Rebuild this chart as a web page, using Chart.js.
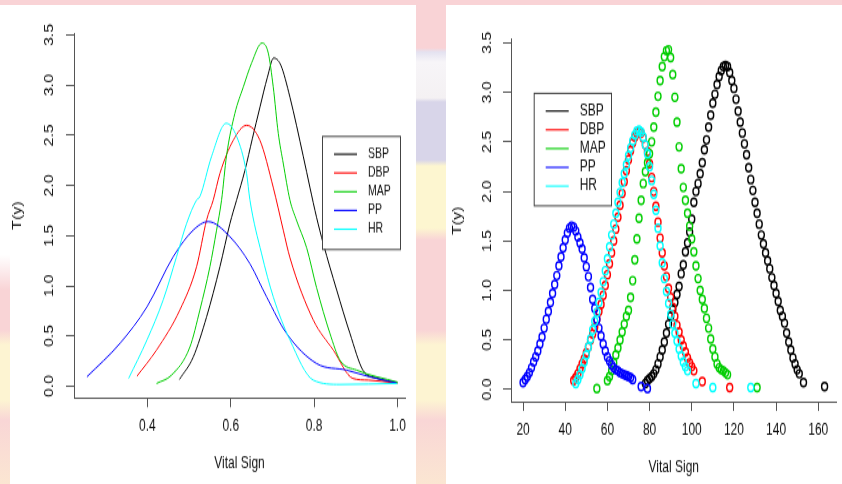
<!DOCTYPE html>
<html>
<head>
<meta charset="utf-8">
<script src="https://cdn.jsdelivr.net/npm/chart.js@4.4.1/dist/chart.umd.min.js"></script>
<style>
  html, body { margin: 0; padding: 0; }
  body {
    width: 842px; height: 484px; overflow: hidden; position: relative;
    background: linear-gradient(to bottom,
      #f9d3d6 0px, #f9d3d6 48px, #e4e2f0 52px, #f7f5f8 62px, #f4f1f3 98px,
      #d8d5e9 102px, #d8d5e9 160px, #fdf6d0 166px, #fdf6d0 228px,
      #f9d4d6 240px, #f9d4d6 330px, #fdf4d2 345px, #fdf4d2 400px,
      #f9d6d6 420px, #fbe6d2 484px);
  }
  .edge { position: absolute; left: 0; top: 5px; width: 10px; height: 285px;
          background: linear-gradient(to bottom, #fff 0px, #fff 250px, rgba(255,255,255,0) 285px); }
  .panel { position: absolute; top: 5px; height: 479px; background: #fff; overflow: hidden; }
  .panel canvas { transform-origin: 0 0; transform: scaleY(1.3306); }
</style>
</head>
<body>
<div class="edge"></div>
<div class="panel" style="left:10px; width:406px;"><canvas id="leftChart" width="406" height="360"></canvas></div>
<div class="panel" style="left:446px; width:396px;"><canvas id="rightChart" width="396" height="360"></canvas></div>
<script>
// --- shared ---
const seriesNames = ['SBP', 'DBP', 'MAP', 'PP', 'HR'];
const seriesColors = ['#000000', '#ff0000', '#00cd00', '#0000ff', '#00ffff'];
const yTicks = [0, 0.5, 1, 1.5, 2, 2.5, 3, 3.5];

// --- left panel: curves on the 0-1 scale ---
const leftXTicks = [0.4, 0.6, 0.8, 1.0];
const sbpLineX = [0.477, 0.51, 0.542, 0.574, 0.598, 0.614, 0.634, 0.652, 0.670, 0.688, 0.703, 0.72, 0.742, 0.774, 0.790, 0.806, 0.822, 0.854, 0.886, 0.917, 0.95, 1.0];
const sbpLineY = [0.067, 0.29, 0.69, 1.19, 1.62, 1.855, 2.15, 2.47, 2.78, 3.08, 3.27, 3.2, 2.88, 2.29, 1.98, 1.68, 1.42, 0.96, 0.525, 0.16, 0.08, 0.035];
const dbpLineX = [0.375, 0.422, 0.478, 0.518, 0.542, 0.558, 0.574, 0.606, 0.638, 0.670, 0.702, 0.726, 0.742, 0.798, 0.846, 0.893, 0.93, 1.0];
const dbpLineY = [0.10, 0.36, 0.76, 1.19, 1.655, 1.855, 2.12, 2.45, 2.60, 2.45, 1.98, 1.555, 1.28, 0.66, 0.36, 0.077, 0.06, 0.03];
const mapLineX = [0.422, 0.458, 0.502, 0.526, 0.550, 0.566, 0.578, 0.59, 0.61, 0.63, 0.65, 0.675, 0.69, 0.702, 0.714, 0.726, 0.742, 0.758, 0.782, 0.806, 0.838, 0.862, 0.902, 1.0];
const mapLineY = [0.027, 0.11, 0.39, 0.76, 1.19, 1.555, 1.855, 2.3, 2.72, 2.98, 3.22, 3.42, 3.32, 2.98, 2.52, 2.22, 1.855, 1.65, 1.38, 0.98, 0.525, 0.26, 0.16, 0.04];
const ppLineX = [0.255, 0.335, 0.399, 0.462, 0.510, 0.546, 0.598, 0.646, 0.686, 0.734, 0.806, 0.878, 0.933, 0.997];
const ppLineY = [0.093, 0.43, 0.79, 1.29, 1.555, 1.64, 1.49, 1.22, 0.89, 0.525, 0.226, 0.16, 0.093, 0.033];
const hrLineX = [0.355, 0.399, 0.438, 0.470, 0.494, 0.518, 0.526, 0.554, 0.589, 0.614, 0.638, 0.646, 0.674, 0.702, 0.742, 0.798, 0.862, 1.0];
const hrLineY = [0.077, 0.46, 0.86, 1.29, 1.62, 1.855, 1.89, 2.29, 2.62, 2.49, 2.12, 1.855, 1.32, 0.89, 0.46, 0.06, 0.017, 0.027];

// --- right panel: points on the original scale ---
const rightXTicks = [20, 40, 60, 80, 100, 120, 140, 160];
const sbpPtsX = [78, 79, 80, 81, 82, 83, 84, 85, 86, 87, 88, 89, 90, 91, 92, 93, 94, 95, 96, 97, 98, 99, 100, 101, 102, 103, 104, 105, 106, 107, 108, 109, 110, 111, 112, 113, 114, 115, 116, 117, 118, 119, 120, 121, 122, 123, 124, 125, 126, 127, 128, 129, 130, 131, 132, 133, 134, 135, 136, 137, 138, 139, 140, 141, 142, 143, 144, 145, 146, 147, 148, 149, 150, 151, 153, 163];
const sbpPtsY = [0.06, 0.09, 0.11, 0.13, 0.16, 0.20, 0.26, 0.33, 0.40, 0.48, 0.57, 0.66, 0.74, 0.81, 0.88, 0.96, 1.04, 1.17, 1.26, 1.39, 1.48, 1.59, 1.72, 1.89, 2.00, 2.08, 2.18, 2.29, 2.42, 2.52, 2.65, 2.77, 2.89, 2.98, 3.08, 3.16, 3.22, 3.26, 3.27, 3.26, 3.20, 3.12, 3.04, 2.93, 2.81, 2.70, 2.59, 2.48, 2.37, 2.24, 2.12, 2.01, 1.89, 1.78, 1.67, 1.56, 1.47, 1.38, 1.30, 1.22, 1.13, 1.05, 0.97, 0.89, 0.80, 0.74, 0.67, 0.57, 0.48, 0.40, 0.32, 0.26, 0.20, 0.16, 0.07, 0.03];
const dbpPtsX = [44, 45, 46, 47, 48, 49, 50, 51, 52, 53, 54, 55, 56, 57, 58, 59, 60, 61, 62, 63, 64, 65, 66, 67, 68, 69, 70, 71, 72, 73, 74, 75, 76, 77, 78, 79, 80, 81, 82, 83, 84, 85, 86, 87, 88, 89, 90, 91, 92, 93, 94, 95, 96, 97, 98, 99, 100, 101, 105, 118];
const dbpPtsY = [0.09, 0.12, 0.16, 0.21, 0.26, 0.31, 0.37, 0.43, 0.50, 0.56, 0.63, 0.71, 0.79, 0.86, 0.95, 1.05, 1.16, 1.27, 1.38, 1.50, 1.62, 1.74, 1.86, 1.98, 2.10, 2.21, 2.32, 2.41, 2.49, 2.55, 2.59, 2.60, 2.59, 2.54, 2.47, 2.40, 2.28, 2.14, 2.00, 1.85, 1.69, 1.53, 1.38, 1.25, 1.14, 1.02, 0.93, 0.83, 0.74, 0.65, 0.58, 0.50, 0.44, 0.38, 0.32, 0.27, 0.23, 0.19, 0.08, 0.02];
const mapPtsX = [55, 60, 61, 62, 63, 64, 65, 66, 67, 68, 69, 70, 71, 72, 73, 74, 75, 76, 77, 78, 79, 80, 81, 82, 83, 84, 85, 86, 87, 88, 89, 90, 91, 92, 93, 94, 95, 96, 97, 98, 99, 100, 101, 102, 103, 104, 105, 106, 107, 108, 109, 110, 111, 112, 113, 114, 115, 116, 117, 131];
const mapPtsY = [0.01, 0.09, 0.13, 0.19, 0.27, 0.35, 0.42, 0.50, 0.58, 0.66, 0.74, 0.80, 0.93, 1.10, 1.31, 1.52, 1.73, 1.91, 2.08, 2.20, 2.29, 2.38, 2.50, 2.65, 2.80, 2.96, 3.12, 3.26, 3.36, 3.42, 3.43, 3.35, 3.18, 2.95, 2.70, 2.45, 2.23, 2.04, 1.91, 1.78, 1.65, 1.52, 1.39, 1.25, 1.12, 1.00, 0.91, 0.82, 0.72, 0.62, 0.51, 0.41, 0.33, 0.26, 0.22, 0.20, 0.19, 0.17, 0.15, 0.02];
const ppPtsX = [20, 21, 22, 23, 24, 25, 26, 27, 28, 29, 30, 31, 32, 33, 34, 35, 36, 37, 38, 39, 40, 41, 42, 43, 44, 45, 46, 47, 48, 49, 50, 51, 52, 53, 54, 55, 56, 57, 58, 59, 60, 61, 62, 63, 64, 65, 66, 67, 68, 69, 70, 71, 72, 76, 79];
const ppPtsY = [0.07, 0.10, 0.13, 0.17, 0.22, 0.28, 0.33, 0.39, 0.46, 0.53, 0.62, 0.71, 0.79, 0.88, 0.97, 1.06, 1.15, 1.25, 1.34, 1.43, 1.51, 1.58, 1.63, 1.65, 1.64, 1.60, 1.54, 1.48, 1.42, 1.33, 1.24, 1.14, 1.03, 0.91, 0.82, 0.71, 0.62, 0.54, 0.46, 0.39, 0.33, 0.29, 0.25, 0.22, 0.20, 0.19, 0.17, 0.16, 0.15, 0.14, 0.13, 0.12, 0.10, 0.03, 0.01];
const hrPtsX = [45, 46, 47, 48, 49, 50, 51, 52, 53, 54, 55, 56, 57, 58, 59, 60, 61, 62, 63, 64, 65, 66, 67, 68, 69, 70, 71, 72, 73, 74, 75, 76, 77, 78, 79, 80, 81, 82, 83, 84, 85, 86, 87, 88, 89, 90, 91, 92, 93, 94, 95, 96, 97, 98, 102, 110, 128];
const hrPtsY = [0.06, 0.10, 0.15, 0.21, 0.28, 0.35, 0.43, 0.51, 0.60, 0.69, 0.78, 0.88, 0.98, 1.09, 1.20, 1.32, 1.44, 1.56, 1.67, 1.78, 1.89, 1.99, 2.09, 2.18, 2.27, 2.36, 2.44, 2.51, 2.57, 2.61, 2.62, 2.60, 2.55, 2.47, 2.38, 2.25, 2.11, 1.97, 1.81, 1.63, 1.45, 1.28, 1.12, 0.99, 0.87, 0.76, 0.66, 0.57, 0.49, 0.41, 0.34, 0.28, 0.23, 0.19, 0.06, 0.02, 0.02];

Chart.defaults.font.family = '"Liberation Sans", Arial, sans-serif';
Chart.defaults.color = '#111';

const zip = (xs, ys) => xs.map((x, i) => ({ x: x, y: ys[i] }));

// boxed legend drawn inside the plot, R style
const boxLegend = {
  id: 'boxLegend',
  afterDraw(chart, args, o) {
    const ctx = chart.ctx;
    ctx.save();
    ctx.fillStyle = '#fff';
    ctx.fillRect(o.x, o.y, o.w, o.h);
    ctx.strokeStyle = '#444';
    ctx.lineWidth = 1;
    ctx.strokeRect(o.x + 0.5, o.y + 0.5, o.w, o.h);
    ctx.font = o.fontSize + 'px "Liberation Sans", Arial, sans-serif';
    ctx.textBaseline = 'middle';
    seriesNames.forEach((name, i) => {
      const y = o.y + o.first + i * o.step;
      ctx.strokeStyle = seriesColors[i];
      ctx.lineWidth = 1.1;
      ctx.beginPath();
      ctx.moveTo(o.x + 12, y);
      ctx.lineTo(o.x + 35, y);
      ctx.stroke();
      ctx.fillStyle = '#111';
      ctx.fillText(name, o.x + 46, y);
    });
    ctx.restore();
  }
};

function scalesFor(cfg) {
  return {
    x: {
      type: 'linear', min: cfg.xMin, max: cfg.xMax,
      afterBuildTicks: s => { s.ticks = cfg.xTicks.map(v => ({ value: v })); },
      afterFit: s => { s.height = cfg.xHeight; },
      ticks: { padding: 7.5, autoSkip: false, maxRotation: 0, font: { size: 12 }, callback: cfg.xFormat },
      grid: { drawOnChartArea: false, drawTicks: true, tickLength: 6.8, color: '#555' },
      border: { display: true, color: '#555', width: 1 },
      title: { display: true, text: 'Vital Sign', font: { size: 12 }, padding: { top: 0, bottom: cfg.xTitlePad } }
    },
    y: {
      type: 'linear', min: cfg.yMin, max: cfg.yMax,
      afterBuildTicks: s => { s.ticks = yTicks.map(v => ({ value: v })); },
      afterFit: s => { s.width = cfg.yWidth; },
      ticks: { padding: cfg.yTickPad, autoSkip: false, minRotation: 90, maxRotation: 90, crossAlign: 'center',
               font: { size: 12 }, callback: v => v.toFixed(1) },
      grid: { drawOnChartArea: false, drawTicks: true, tickLength: 8, color: '#555' },
      border: { display: true, color: '#555', width: 1 },
      title: { display: true, text: 'T(y)', font: { size: 12 }, padding: { top: cfg.yTitlePad, bottom: 0 } }
    }
  };
}

const lineSets = [[sbpLineX, sbpLineY], [dbpLineX, dbpLineY], [mapLineX, mapLineY], [ppLineX, ppLineY], [hrLineX, hrLineY]];
const pointSets = [[sbpPtsX, sbpPtsY], [dbpPtsX, dbpPtsY], [mapPtsX, mapPtsY], [ppPtsX, ppPtsY], [hrPtsX, hrPtsY]];

new Chart(document.getElementById('leftChart'), {
  type: 'scatter',
  data: {
    datasets: lineSets.map((s, i) => ({
      label: seriesNames[i], data: zip(s[0], s[1]), showLine: true,
      borderColor: seriesColors[i], borderWidth: 1.0, pointRadius: 0,
      cubicInterpolationMode: 'monotone', order: 5 - i
    }))
  },
  options: {
    responsive: false, animation: false,
    layout: { padding: { top: 21, right: 11, bottom: 0, left: 0 } },
    plugins: {
      legend: { display: false }, tooltip: { enabled: false },
      boxLegend: { x: 312, y: 98.3, w: 78, h: 85, first: 13.8, step: 14.1, fontSize: 10.5 }
    },
    scales: scalesFor({
      xMin: 0.224, xMax: 1.018, xTicks: leftXTicks, xFormat: v => v.toFixed(1),
      yMin: -0.12, yMax: 3.52, xHeight: 64.5, yWidth: 64,
      yTickPad: 7.7, xTitlePad: 7.8, yTitlePad: 0.8
    })
  },
  plugins: [boxLegend]
});

new Chart(document.getElementById('rightChart'), {
  type: 'scatter',
  data: {
    datasets: pointSets.map((s, i) => ({
      label: seriesNames[i], data: zip(s[0], s[1]),
      borderColor: seriesColors[i], backgroundColor: 'rgba(0,0,0,0)',
      pointStyle: 'circle', pointRadius: 3.0, borderWidth: 1.4, order: 5 - i
    }))
  },
  options: {
    responsive: false, animation: false,
    layout: { padding: { top: 25.8, right: 0, bottom: 0, left: 0 } },
    plugins: {
      legend: { display: false }, tooltip: { enabled: false },
      boxLegend: { x: 87.7, y: 65.9, w: 77.3, h: 84.5, first: 13.8, step: 14.1, fontSize: 12 }
    },
    scales: scalesFor({
      xMin: 14.28, xMax: 168.7, xTicks: rightXTicks, xFormat: v => String(v),
      yMin: -0.125, yMax: 3.535, xHeight: 61.7, yWidth: 65,
      yTickPad: 6.7, xTitlePad: 4.8, yTitlePad: 4.5
    })
  },
  plugins: [boxLegend]
});
</script>
</body>
</html>
